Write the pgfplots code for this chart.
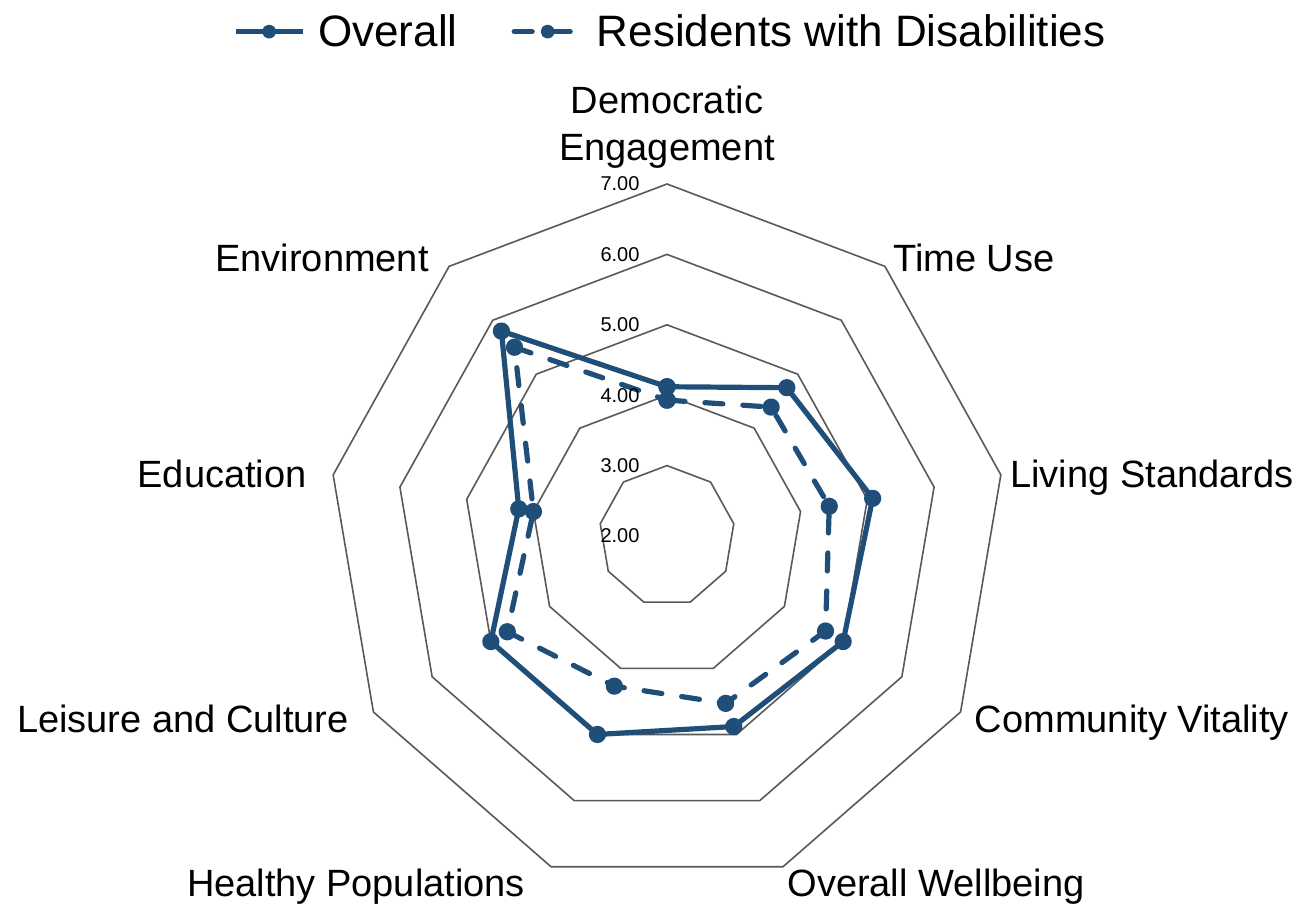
\documentclass[border=0pt]{standalone}
\usepackage{pgfplots}
\pgfplotsset{compat=1.18}
\usepackage{pgfplotstable}
\usepackage{fontspec}
\setmainfont{Liberation Sans}
\definecolor{ser}{HTML}{1F4E79}
\definecolor{gridc}{HTML}{595959}

% angle (deg), value  -- first row repeated to close the shape
\pgfplotstableread{
a v
90 4.12
50 4.75
10 5.08
-30 5.00
-70 4.88
-110 5.00
-150 5.00
-190 4.22
-230 5.80
90 4.12
}\overall
\pgfplotstableread{
a v
90 3.93
50 4.39
10 4.43
-30 4.70
-70 4.53
-110 4.27
-150 4.72
-190 4.00
-230 5.50
90 3.93
}\disab

\begin{document}
\begin{tikzpicture}
\begin{axis}[
  scale only axis, width=653.5pt, height=452pt,
  xmin=-9.838, xmax=9.440, ymin=-5.227, ymax=7.614,
  hide axis, clip=false,
  legend image code/.code={\draw[mark repeat=2,mark phase=2,#1,mark size=2.2pt]
      plot coordinates {(0pt,0pt) (16.75pt,0pt) (33.5pt,0pt)};},
  legend style={at={(0.178,0.965)}, anchor=west, draw=none, fill=none, inner sep=0pt,
    legend columns=2, font=\fontsize{22}{26}\selectfont,
    nodes={inner sep=0pt},
    /tikz/every odd column/.append style={column sep=6.5pt},
    /tikz/every even column/.append style={column sep=27pt}},
]
\draw[draw=none] (rel axis cs:0,0) rectangle (rel axis cs:1,1);
\pgfplotsinvokeforeach{1,2,3,4,5}{
  \draw[gridc, line width=0.8pt, line join=miter]
    (axis cs:{#1*cos(90)},{#1*sin(90)}) --
    (axis cs:{#1*cos(50)},{#1*sin(50)}) --
    (axis cs:{#1*cos(10)},{#1*sin(10)}) --
    (axis cs:{#1*cos(-30)},{#1*sin(-30)}) --
    (axis cs:{#1*cos(-70)},{#1*sin(-70)}) --
    (axis cs:{#1*cos(-110)},{#1*sin(-110)}) --
    (axis cs:{#1*cos(-150)},{#1*sin(-150)}) --
    (axis cs:{#1*cos(-190)},{#1*sin(-190)}) --
    (axis cs:{#1*cos(-230)},{#1*sin(-230)}) -- cycle;
}
\addplot[ser, line width=2.6pt, mark=*, mark size=3pt, line join=round]
  table[x expr={(\thisrow{v}-2)*cos(\thisrow{a})}, y expr={(\thisrow{v}-2)*sin(\thisrow{a})}] {\overall};
\addlegendentry{Overall}
\addplot[ser, line width=2.6pt, mark=*, mark size=3pt, line join=round, line cap=round,
  dash pattern=on 9pt off 10pt, mark options={solid}]
  table[x expr={(\thisrow{v}-2)*cos(\thisrow{a})}, y expr={(\thisrow{v}-2)*sin(\thisrow{a})}] {\disab};
\addlegendentry{Residents with Disabilities}

\begin{scope}[every node/.style={anchor=east, inner sep=0pt, font=\fontsize{10}{12}\selectfont}]
\node at (axis cs:-0.40,0) {2.00};
\node at (axis cs:-0.40,1) {3.00};
\node at (axis cs:-0.40,2) {4.00};
\node at (axis cs:-0.40,3) {5.00};
\node at (axis cs:-0.40,4) {6.00};
\node at (axis cs:-0.40,5) {7.00};
\end{scope}
\begin{scope}[every node/.style={anchor=base, inner sep=0pt, font=\fontsize{19}{23.5}\selectfont, align=center}]
\node at (axis cs:0,5.341) {Democratic\\Engagement};
\node at (axis cs:4.528,3.764) {Time Use};
\node at (axis cs:7.153,0.682) {Living Standards};
\node at (axis cs:6.858,-2.798) {Community Vitality};
\node at (axis cs:3.968,-5.114) {Overall Wellbeing};
\node at (axis cs:-4.587,-5.114) {Healthy Populations};
\node at (axis cs:-7.139,-2.798) {Leisure and Culture};
\node at (axis cs:-6.563,0.682) {Education};
\node at (axis cs:-5.088,3.764) {Environment};
\end{scope}
\end{axis}
\end{tikzpicture}
\end{document}
